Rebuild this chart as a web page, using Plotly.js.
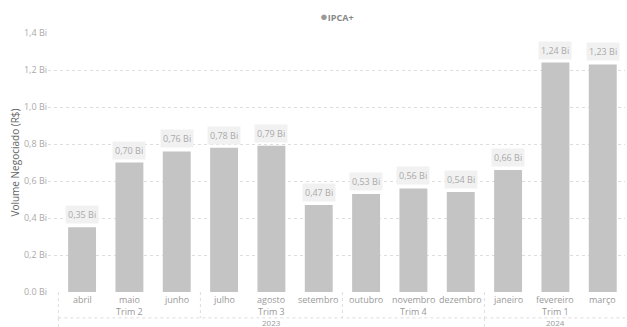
<!DOCTYPE html>
<html><head><meta charset="utf-8">
<script src="https://cdn.plot.ly/plotly-3.0.1.min.js"></script>
<style>html,body{margin:0;padding:0;background:#fff}#c{width:627px;height:327px}</style>
</head><body><div id="c"></div>
<script>
const months = ["abril","maio","junho","julho","agosto","setembro","outubro","novembro","dezembro","janeiro","fevereiro","março"];
const quarters = ["Trim 2","Trim 2","Trim 2","Trim 3","Trim 3","Trim 3","Trim 4","Trim 4","Trim 4","Trim 1","Trim 1","Trim 1"];
const years = ["2023","2023","2023","2023","2023","2023","2023","2023","2023","2024","2024","2024"];
const values = [0.35,0.70,0.76,0.78,0.79,0.47,0.53,0.56,0.54,0.66,1.24,1.23];
const labels = ["0,35 Bi","0,70 Bi","0,76 Bi","0,78 Bi","0,79 Bi","0,47 Bi","0,53 Bi","0,56 Bi","0,54 Bi","0,66 Bi","1,24 Bi","1,23 Bi"];
const yTickVals = [0,0.2,0.4,0.6,0.8,1.0,1.2,1.4];
const yTickText = ["0.0 Bi","0,2 Bi","0,4 Bi","0,6 Bi","0,8 Bi","1,0 Bi","1,2 Bi","1,4 Bi"];
const seriesName = "IPCA+";

const idx = months.map((m,i)=>i);
const font = "Segoe UI, Open Sans, sans-serif";
const ann = [];
const shapes = [];
idx.forEach(i=>{
  ann.push({x:i,y:values[i],xref:'x',yref:'y',text:labels[i],showarrow:false,yanchor:'bottom',yshift:3,
    font:{family:font,size:9,color:'#aaaaaa'},bgcolor:'#f1f1f1',borderpad:2});
  ann.push({x:i,y:0,xref:'x',yref:'paper',text:months[i],showarrow:false,yanchor:'top',yshift:0,borderpad:0,
    font:{family:font,size:9,color:'#999999'}});
});
function groups(arr){const g=[];arr.forEach((v,i)=>{if(g.length&&g[g.length-1].key===v&&g[g.length-1].end===i-1){g[g.length-1].end=i;}else g.push({key:v,start:i,end:i});});return g;}
const qg = groups(quarters.map((q,i)=>years[i]+q));
const yg = groups(years);
qg.forEach(g=>{
  ann.push({x:(g.start+g.end)/2,y:0,xref:'x',yref:'paper',text:quarters[g.start],showarrow:false,yanchor:'top',yshift:-12,borderpad:0,
    font:{family:font,size:9,color:'#999999'}});
  shapes.push({type:'line',xref:'x',yref:'paper',x0:g.start-0.5,x1:g.start-0.5,y0:0,y1:-0.1,line:{color:'#dddddd',width:1,dash:'dot'}});
});
yg.forEach(g=>{
  ann.push({x:(g.start+g.end)/2,y:0,xref:'x',yref:'paper',text:g.key,showarrow:false,yanchor:'top',yshift:-24,borderpad:0,
    font:{family:font,size:8,color:'#999999'}});
  shapes.push({type:'line',xref:'x',yref:'paper',x0:g.start-0.5,x1:g.start-0.5,y0:-0.1,y1:-0.14,line:{color:'#dddddd',width:1,dash:'dot'}});
});
shapes.push({type:'line',xref:'x',yref:'paper',x0:-0.5,x1:11.5,y0:-0.1,y1:-0.1,line:{color:'#dddddd',width:1,dash:'dot'}});
ann.push({x:0.5,y:1,xref:'paper',yref:'paper',yanchor:'bottom',yshift:6,showarrow:false,
  text:"<span style='color:#999999;font-size:13px'>●</span><b>"+seriesName+"</b>",font:{family:font,size:9,color:'#888888'}});

Plotly.newPlot('c',[{type:'bar',x:idx,y:values,name:seriesName,marker:{color:'#c4c4c4'},width:0.59,hoverinfo:'none'}],{
  width:627,height:327,margin:{l:48,r:2,t:33,b:35},
  paper_bgcolor:'#fff',plot_bgcolor:'#fff',showlegend:false,
  xaxis:{range:[-0.72,11.47],showticklabels:false,showgrid:false,zeroline:false,ticks:'',fixedrange:true},
  yaxis:{range:[0,1.4],tickvals:yTickVals,ticktext:yTickText,showgrid:true,gridcolor:'#dddddd',griddash:'dot',zeroline:false,
    tickfont:{family:font,size:9,color:'#aaaaaa'},ticks:'',
    title:{text:'Volume Negociado (R$)',font:{family:font,size:10,color:'#666666'},standoff:2}},
  annotations:ann,shapes:shapes
},{staticPlot:true});
</script></body></html>
